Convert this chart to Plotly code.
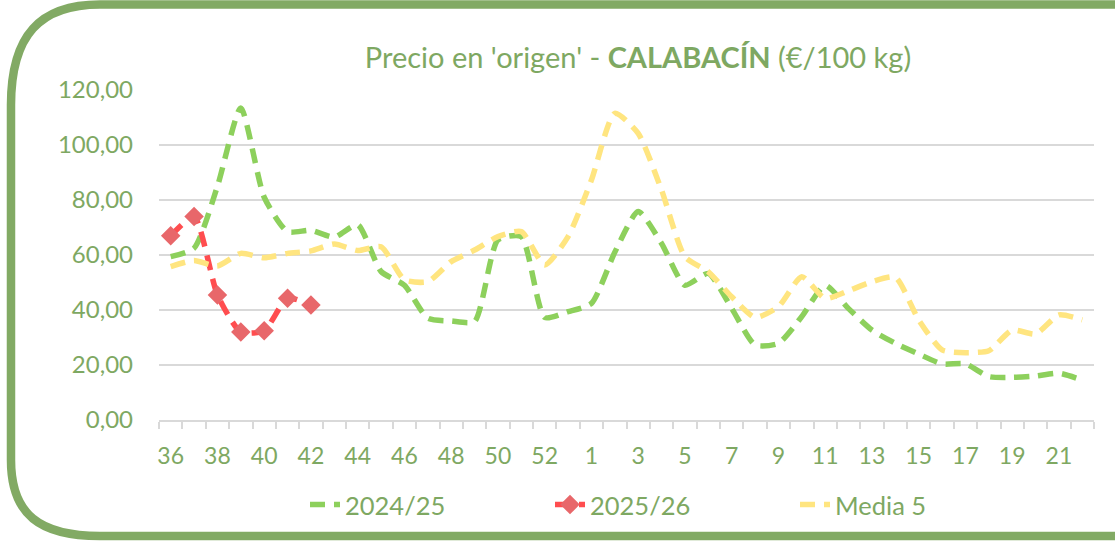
import plotly.graph_objects as go

weeks = ["36", "37", "38", "39", "40", "41", "42", "43", "44", "45", "46", "47", "48", "49",
         "50", "51", "52", "53", "1", "2", "3", "4", "5", "6", "7", "8", "9", "10", "11", "12",
         "13", "14", "15", "16", "17", "18", "19", "20", "21", "22"]

s2024_25 = [59.4, 62.5, 85.0, 113.5, 81.0, 68.5, 69.0, 66.5, 71.0, 54.0,
            49.0, 37.0, 36.0, 35.8, 65.5, 66.7, 37.3, 39.4, 42.4, 61.0,
            75.8, 64.2, 49.0, 53.3, 40.6, 27.3, 27.9, 37.6, 49.0, 40.5,
            32.7, 27.9, 24.0, 20.4, 20.4, 15.8, 15.5, 16.0, 17.0, 14.5]

s2025_26 = [67.0, 74.0, 45.5, 32.0, 32.5, 44.3, 41.8] + [None] * 33

media5 = [55.8, 58.0, 56.0, 60.6, 59.0, 60.6, 61.5, 64.0, 61.6, 63.0,
          51.0, 50.3, 57.6, 61.8, 66.7, 68.5, 56.4, 66.7, 87.3, 111.5,
          104.2, 83.6, 59.4, 53.9, 44.8, 37.3, 41.2, 52.1, 44.2, 47.0,
          50.3, 51.9, 36.4, 25.5, 24.5, 25.2, 32.7, 31.3, 38.2, 36.4]

tick_labels = [w if i % 2 == 0 else "" for i, w in enumerate(weeks)]

W, H = 1115, 548
L, R, T, B = 159, 21, 90, 128
PW, PH = W - L - R, H - T - B

TXT = "#7EA862"
BORDER = "#82AA64"
FONT = "Lato"


def px(x):
    return (x - L) / PW


def py(y):
    return (H - B - y) / PH


def pt(x, y):
    return f"{px(x):.5f},{py(y):.5f}"


border_path = (
    f"M {pt(1140, 4.5)} L {pt(100, 4.5)} C {pt(40, 4.5)} {pt(11, 35)} {pt(11, 105)} "
    f"L {pt(11, 460)} C {pt(11, 515)} {pt(40, 536)} {pt(100, 536)} L {pt(1140, 536)}"
)

fig = go.Figure()

fig.add_trace(go.Scatter(
    x=weeks, y=s2024_25, name="2024/25", mode="lines",
    line=dict(color="#8DD05C", width=5.5, dash="15px,9px", shape="spline", smoothing=0.6),
))
fig.add_trace(go.Scatter(
    x=weeks, y=s2025_26, name="2025/26", mode="lines+markers",
    line=dict(color="#FF4D4F", width=5.5, dash="15px,9px", shape="spline", smoothing=0.6),
    marker=dict(symbol="diamond", size=15, color="#E8676A"),
))
fig.add_trace(go.Scatter(
    x=weeks, y=media5, name="Media 5", mode="lines",
    line=dict(color="#FFE580", width=5.5, dash="15px,9px", shape="spline", smoothing=0.6),
))

fig.update_layout(
    width=W, height=H,
    margin=dict(l=L, r=R, t=T, b=B),
    paper_bgcolor="white", plot_bgcolor="white",
    separators=",.",
    font=dict(family=FONT, color=TXT, size=23),
    title=dict(
        text="Precio en 'origen' - <b>CALABACÍN</b> (€/100 kg)",
        x=(638) / W, xanchor="center", y=1 - 58 / H, yanchor="middle",
        font=dict(family=FONT, size=29, color=TXT),
    ),
    xaxis=dict(
        type="category", tickmode="array", tickvals=weeks, ticktext=tick_labels,
        tickson="boundaries", ticks="outside", ticklen=7, tickcolor="#D9D9D9", tickwidth=1.5,
        showline=True, linecolor="#D9D9D9", linewidth=1.5, showgrid=False,
        range=[-0.5, len(weeks) - 0.5], tickangle=0, ticklabelstandoff=15,
        tickfont=dict(family=FONT, size=23, color=TXT),
    ),
    yaxis=dict(
        range=[0, 120], dtick=20, tickformat=".2f", showgrid=True,
        gridcolor="#D9D9D9", gridwidth=1.5, zeroline=False, showline=False,
        ticks="", ticklabelstandoff=25,
        tickfont=dict(family=FONT, size=24, color=TXT),
    ),
    legend=dict(
        orientation="h", x=px(305), xanchor="left", y=py(505), yanchor="middle",
        font=dict(family=FONT, size=25.5, color=TXT),
        entrywidth=200, entrywidthmode="pixels", bgcolor="rgba(0,0,0,0)",
    ),
    showlegend=True,
    shapes=[dict(
        type="path", xref="paper", yref="paper", path=border_path,
        line=dict(color=BORDER, width=8.5), layer="below",
    )],
)

fig.write_html(
    "out.html",
    config={"displayModeBar": False},
    post_script="document.body.style.margin='0';document.body.style.overflow='hidden';",
)
